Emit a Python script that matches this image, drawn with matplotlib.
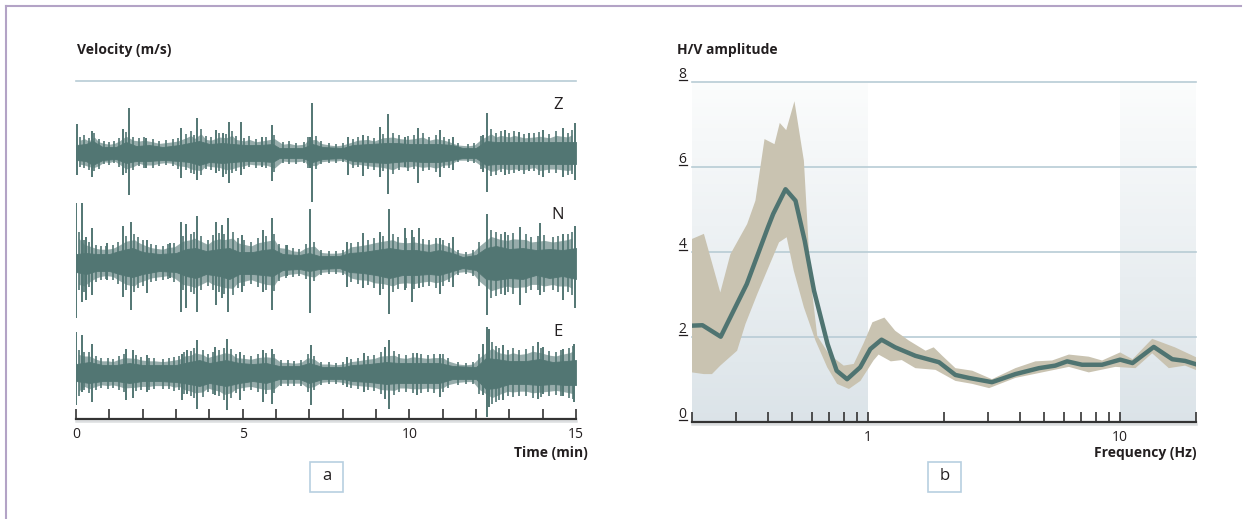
import numpy as np
import matplotlib.pyplot as plt
from matplotlib.patches import Rectangle
import matplotlib.transforms as mtransforms
from matplotlib.colors import to_rgb

plt.rcParams['font.family'] = ['Open Sans', 'DejaVu Sans']

# panel a: three-component ambient noise record, relative amplitude
comp_names = ['Z', 'N', 'E']
comp_offset = [266, 157, 47]

# solid core of each trace: time (min), amplitude above / below
z_t = [0.0, 0.3, 0.5, 0.8, 1.2, 1.5, 1.8, 2.2, 2.6, 3.1, 3.4, 3.7, 4.0, 4.4, 4.7, 5.1, 5.5, 5.9, 6.1,
       6.8, 7.1, 7.4, 8.0, 8.3, 8.8, 9.3, 9.6, 10.0, 10.4, 10.9, 11.3, 11.6, 12.0, 12.3, 12.6, 13.0,
       13.5, 14.0, 14.5, 15.0]
z_up = [8, 9, 12, 6, 6, 11, 7, 8, 6, 8, 10, 12, 9, 10, 9, 8, 8, 9, 5,
        5, 9, 6, 5, 8, 9, 10, 10, 9, 9, 9, 8, 5, 5, 12, 11, 11,
        11, 11, 11, 11]
z_dn = [7, 8, 12, 7, 6, 10, 8, 8, 7, 8, 9, 12, 9, 10, 9, 8, 8, 9, 5,
        5, 9, 6, 5, 8, 9, 10, 9, 8, 9, 9, 7, 5, 5, 12, 11, 11,
        11, 11, 11, 11]
# dense fine peaks around the core
z_fine_t = [0.12, 0.25, 0.38, 0.55, 0.68, 0.85, 1.0, 1.15, 1.3, 1.5, 1.72, 1.9, 2.05, 2.3, 2.5, 2.7,
            2.9, 3.05, 3.3, 3.45, 3.55, 3.75, 3.9, 4.05, 4.3, 4.5, 4.68, 4.8, 5.05, 5.2, 5.4, 5.7,
            5.95, 6.2, 6.4, 6.6, 6.85, 6.95, 7.2, 7.35, 7.6, 7.8, 8.0, 8.3, 8.45, 8.75, 8.95, 9.2,
            9.5, 9.7, 9.95, 10.15, 10.4, 10.6, 10.8, 11.05, 11.2, 11.45, 11.75, 11.95, 12.15, 12.45,
            12.6, 12.75, 13.0, 13.15, 13.45, 13.75, 13.9, 14.2, 14.4, 14.75, 14.88]
z_fine_up = [16, 18, 15, 20, 14, 12, 11, 12, 15, 21, 16, 15, 16, 14, 12, 13,
             14, 15, 19, 22, 18, 24, 17, 16, 20, 19, 22, 17, 15, 17, 14, 16,
             18, 11, 12, 10, 11, 16, 17, 12, 10, 9, 10, 14, 16, 17, 15, 19,
             20, 18, 17, 18, 20, 16, 18, 16, 14, 10, 9, 10, 17, 24,
             20, 22, 20, 22, 19, 20, 21, 19, 22, 20, 23]
z_fine_dn = [14, 15, 17, 18, 16, 11, 12, 10, 14, 20, 17, 13, 15, 15, 13, 12,
             13, 16, 17, 20, 21, 22, 16, 17, 18, 21, 20, 18, 16, 14, 15, 15,
             19, 10, 11, 11, 10, 15, 16, 11, 10, 10, 9, 15, 14, 16, 17, 18,
             21, 17, 18, 16, 18, 17, 19, 15, 15, 9, 9, 10, 16, 23,
             22, 19, 21, 20, 21, 18, 22, 20, 20, 22, 21]
# isolated bursts
z_spk_t = [0.02, 0.47, 1.42, 1.6, 2.1, 3.15, 3.62, 4.2, 4.42, 4.58, 4.94, 5.57, 5.87, 7.03, 7.09,
           8.17, 8.62, 9.12, 9.37, 9.87, 10.27, 10.92, 11.32, 12.22, 12.34, 12.87, 13.3, 13.6,
           14.02, 14.62, 14.97]
z_spk_up = [29, 22, 24, 45, 15, 25, 35, 23, 20, 31, 31, 16, 28, 16, 50,
            16, 18, 26, 39, 16, 25, 23, 16, 18, 40, 23, 21, 20,
            23, 25, 30]
z_spk_dn = [22, 24, 22, 42, 15, 25, 27, 20, 24, 30, 22, 14, 28, 15, 49,
            22, 23, 24, 41, 14, 30, 24, 17, 19, 39, 22, 18, 18,
            24, 24, 27]

n_t = [0.0, 0.3, 0.6, 1.0, 1.4, 1.7, 2.0, 2.5, 3.0, 3.3, 3.6, 3.9, 4.3, 4.6, 4.9, 5.3, 5.6, 5.9, 6.2,
       6.7, 7.0, 7.3, 7.9, 8.2, 8.6, 9.0, 9.4, 9.8, 10.2, 10.6, 10.9, 11.3, 11.6, 12.0, 12.3, 12.6,
       13.0, 13.4, 13.8, 14.2, 14.6, 15.0]
n_up = [8, 9, 8, 8, 12, 14, 10, 8, 9, 13, 14, 11, 13, 14, 10, 10, 12, 13, 8,
        7, 9, 6, 6, 9, 10, 12, 14, 12, 12, 10, 12, 9, 5, 7, 14, 16,
        13, 14, 12, 13, 12, 14]
n_dn = [10, 12, 9, 9, 13, 15, 12, 9, 10, 14, 16, 12, 14, 17, 12, 12, 13, 14, 8,
        7, 9, 7, 6, 10, 11, 13, 16, 13, 13, 12, 13, 9, 6, 8, 17, 18,
        16, 17, 13, 16, 14, 17]
n_fine_t = [0.08, 0.25, 0.4, 0.6, 0.75, 0.9, 1.1, 1.25, 1.5, 1.75, 1.85, 2.0, 2.25, 2.4, 2.6, 2.75,
            2.95, 3.2, 3.45, 3.55, 3.75, 3.95, 4.1, 4.3, 4.45, 4.7, 4.85, 5.05, 5.25, 5.45, 5.7,
            5.95, 6.1, 6.3, 6.5, 6.7, 6.9, 7.15, 7.35, 7.6, 7.8, 8.0, 8.25, 8.45, 8.75, 8.95, 9.2,
            9.5, 9.65, 9.9, 10.15, 10.4, 10.6, 10.8, 11.0, 11.2, 11.45, 11.7, 11.9, 12.1, 12.45,
            12.6, 12.75, 12.95, 13.1, 13.5, 13.65, 13.85, 14.05, 14.3, 14.45, 14.75, 14.88]
n_fine_up = [30, 22, 20, 17, 16, 16, 17, 20, 26, 28, 25, 22, 18, 17, 16, 18,
             19, 26, 28, 30, 26, 22, 27, 29, 28, 30, 24, 22, 20, 24, 26,
             28, 18, 17, 14, 13, 18, 20, 12, 11, 11, 12, 19, 20, 22, 24, 26,
             28, 25, 24, 25, 23, 22, 24, 22, 19, 12, 10, 12, 20, 32,
             30, 28, 27, 29, 28, 25, 26, 27, 25, 26, 28, 30]
n_fine_dn = [28, 30, 25, 20, 18, 17, 18, 22, 28, 30, 26, 24, 20, 19, 18, 17,
             20, 28, 30, 32, 28, 24, 28, 30, 32, 33, 26, 24, 22, 25, 28,
             29, 19, 16, 15, 14, 17, 19, 13, 12, 12, 13, 20, 22, 23, 26, 27,
             30, 27, 26, 27, 25, 24, 26, 24, 20, 13, 12, 14, 24, 36,
             34, 32, 30, 32, 31, 28, 28, 30, 28, 30, 30, 33]
n_spk_t = [0.0, 0.17, 0.3, 0.47, 0.92, 1.42, 1.64, 2.12, 2.82, 3.15, 3.3, 3.64, 4.2, 4.37, 4.57,
           4.97, 5.62, 5.87, 6.32, 7.02, 8.12, 8.62, 9.12, 9.39, 9.87, 10.09, 10.29, 10.92,
           11.32, 12.34, 12.87, 13.32, 13.92, 14.62, 14.97]
n_spk_up = [59, 59, 25, 34, 19, 36, 40, 22, 19, 40, 38, 46, 40, 37, 44,
            27, 32, 44, 17, 53, 20, 29, 30, 53, 34, 32, 34, 24,
            25, 48, 30, 35, 39, 28, 36]
n_spk_dn = [56, 40, 38, 33, 18, 35, 48, 31, 16, 50, 46, 50, 43, 36, 50,
            30, 30, 48, 14, 51, 25, 26, 33, 52, 28, 40, 26, 32,
            25, 53, 33, 43, 33, 38, 46]

e_t = [0.0, 0.4, 0.8, 1.2, 1.6, 2.0, 2.5, 3.0, 3.4, 3.7, 4.0, 4.5, 4.9, 5.3, 5.7, 6.1, 6.7, 7.0,
       7.4, 8.0, 8.3, 8.8, 9.3, 9.7, 10.2, 10.6, 10.9, 11.3, 12.0, 12.3, 12.6, 13.0, 13.5, 13.9,
       14.3, 14.7, 15.0]
e_up = [8, 10, 7, 7, 9, 7, 7, 7, 10, 12, 9, 12, 9, 8, 9, 6, 6, 9,
        5, 5, 7, 8, 10, 9, 9, 9, 9, 6, 5, 14, 13, 11, 11, 13,
        10, 11, 12]
e_dn = [9, 11, 9, 9, 11, 9, 9, 10, 12, 14, 11, 14, 11, 9, 11, 7, 7, 11,
        7, 7, 9, 10, 12, 11, 11, 11, 11, 7, 7, 17, 16, 12, 12, 13,
        12, 13, 13]
e_fine_t = [0.08, 0.25, 0.4, 0.6, 0.75, 0.95, 1.1, 1.3, 1.45, 1.8, 1.95, 2.2, 2.35, 2.6, 2.8, 2.95,
            3.1, 3.25, 3.45, 3.55, 3.8, 3.95, 4.1, 4.3, 4.45, 4.65, 4.8, 5.05, 5.25, 5.45, 5.7,
            5.95, 6.15, 6.35, 6.55, 6.75, 6.95, 7.15, 7.35, 7.6, 7.8, 8.0, 8.25, 8.45, 8.75, 8.95,
            9.15, 9.55, 9.7, 9.9, 10.1, 10.35, 10.55, 10.75, 11.0, 11.15, 11.45, 11.7, 11.9, 12.1,
            12.48, 12.6, 12.7, 12.95, 13.1, 13.3, 13.5, 13.7, 13.95, 14.2, 14.4, 14.55, 14.8, 14.9]
e_fine_up = [22, 20, 20, 16, 14, 14, 13, 16, 18, 17, 15, 14, 14, 13, 14, 15,
             16, 20, 21, 24, 22, 18, 20, 22, 24, 23, 18, 17, 16, 18, 19,
             18, 12, 12, 11, 12, 18, 16, 10, 10, 9, 10, 13, 14, 16, 17,
             20, 21, 18, 17, 19, 18, 17, 18, 18, 14, 10, 9, 10, 18,
             30, 26, 24, 22, 24, 22, 23, 26, 24, 21, 20, 22, 24, 26]
e_fine_dn = [24, 18, 21, 18, 16, 17, 16, 18, 20, 19, 18, 18, 17, 17, 17, 19,
             18, 22, 24, 26, 25, 20, 22, 24, 28, 26, 21, 19, 18, 20, 22,
             21, 14, 14, 14, 14, 20, 18, 13, 12, 12, 13, 16, 17, 18, 19,
             22, 23, 20, 20, 21, 21, 20, 21, 20, 16, 13, 12, 12, 22,
             32, 30, 28, 24, 25, 24, 24, 26, 25, 24, 23, 24, 26, 27]
e_spk_t = [0.0, 0.17, 0.49, 1.5, 1.7, 2.12, 3.17, 3.32, 3.62, 4.17, 4.54, 4.92, 5.6, 5.87, 7.04,
           8.12, 8.65, 9.27, 9.4, 10.22, 10.92, 12.22, 12.32, 12.39, 12.82, 13.87, 14.0,
           14.62, 14.95]
e_spk_up = [40, 37, 28, 23, 22, 17, 18, 22, 32, 25, 33, 20, 22, 23, 27,
            15, 19, 25, 32, 19, 18, 28, 45, 43, 27, 30, 25,
            23, 28]
e_spk_dn = [33, 20, 30, 28, 26, 20, 28, 22, 37, 23, 38, 28, 30, 32, 33,
            15, 20, 27, 37, 23, 25, 23, 45, 35, 28, 27, 22,
            24, 30]

time_ticks = list(range(16))

# panel b: H/V spectral ratio, mean and spread
f_mean = [0.2, 0.22, 0.26, 0.33, 0.40, 0.42, 0.47, 0.515, 0.56, 0.61, 0.69, 0.75, 0.825, 0.93, 1.02,
          1.13, 1.28, 1.54, 1.91, 2.22, 2.51, 3.10, 3.84, 4.76, 5.53, 6.16, 7.06, 8.48, 10.0,
          11.2, 13.6, 16.1, 18.1, 20.3]
hv_mean = [2.26, 2.27, 2.0, 3.24, 4.57, 4.89, 5.47, 5.2, 4.26, 3.08, 1.83, 1.2, 1.0, 1.28, 1.71,
           1.93, 1.75, 1.55, 1.40, 1.10, 1.03, 0.93, 1.12, 1.26, 1.32, 1.42, 1.34, 1.34, 1.46,
           1.38, 1.76, 1.47, 1.43, 1.34]

f_hi = [0.2, 0.223, 0.259, 0.284, 0.331, 0.357, 0.388, 0.425, 0.446, 0.473, 0.51, 0.556, 0.59,
        0.628, 0.699, 0.80, 0.877, 0.96, 1.04, 1.16, 1.28, 1.45, 1.69, 1.82, 1.97, 2.22, 2.59,
        3.10, 3.84, 4.61, 5.37, 6.26, 7.51, 8.48, 10.0, 11.2, 13.4, 16.5, 20.3]
hv_hi = [4.30, 4.42, 3.04, 3.94, 4.65, 5.2, 6.65, 6.53, 7.03, 6.86, 7.54, 6.14, 3.40,
         2.02, 1.59, 1.32, 1.36, 1.85, 2.34, 2.45, 2.14, 1.91, 1.67, 1.75, 1.55, 1.26, 1.2,
         1.0, 1.26, 1.42, 1.44, 1.58, 1.53, 1.44, 1.63, 1.47, 1.95, 1.75, 1.50]

f_lo = [0.2, 0.223, 0.24, 0.259, 0.302, 0.326, 0.363, 0.397, 0.443, 0.475, 0.507, 0.556, 0.618,
        0.688, 0.753, 0.839, 0.932, 1.05, 1.10, 1.23, 1.36, 1.54, 1.85, 2.22, 2.59, 3.02, 3.84,
        4.90, 6.26, 7.51, 9.57, 11.5, 13.4, 15.6, 18.1, 20.3]
hv_lo = [1.16, 1.12, 1.12, 1.32, 1.67, 2.30, 3.0, 3.55, 4.22, 4.34, 3.55, 2.69, 1.91,
         1.28, 0.89, 0.77, 0.96, 1.44, 1.58, 1.42, 1.45, 1.26, 1.22, 0.96, 0.89, 0.79, 1.03,
         1.16, 1.29, 1.16, 1.29, 1.26, 1.61, 1.26, 1.32, 1.2]

hv_levels = [2, 4, 6, 8]
shaded_bands = [(0.2, 1.0), (10.0, 20.0)]

# colours
wave_col = '#527673'
line_col = '#4f7471'
band_col = '#c9c3b1'
grid_col = '#b8ccd5'
axis_col = '#333333'
text_col = '#231f20'
frame_col = '#b3a3c6'
box_col = '#b8cfe0'

W, H = 1246, 519
fig = plt.figure(figsize=(W / 100, H / 100), dpi=100)


def fx(px):
    return px / W


def fy(py):
    return 1 - py / H


# outer frame (top and left edges)
fig.add_artist(plt.Line2D([fx(6), fx(1241)], [fy(6), fy(6)], color=frame_col, lw=1.5,
                          transform=fig.transFigure))
fig.add_artist(plt.Line2D([fx(6), fx(6)], [fy(6), 0], color=frame_col, lw=1.5,
                          transform=fig.transFigure))

# ---------------- panel a ----------------
axa = fig.add_axes([fx(76), fy(419), fx(500), (419 - 81) / H])
traces = [
    (z_t, z_up, z_dn, z_fine_t, z_fine_up, z_fine_dn, z_spk_t, z_spk_up, z_spk_dn),
    (n_t, n_up, n_dn, n_fine_t, n_fine_up, n_fine_dn, n_spk_t, n_spk_up, n_spk_dn),
    (e_t, e_up, e_dn, e_fine_t, e_fine_up, e_fine_dn, e_spk_t, e_spk_up, e_spk_dn),
]
label_rise = [48, 47, 40]
for name, off, rise, tr in zip(comp_names, comp_offset, label_rise, traces):
    bt, bu, bd, ft, fu, fd, st, su, sd = tr
    bu, bd, fu, fd, su, sd = map(np.asarray, (bu, bd, fu, fd, su, sd))
    # fuzzy halo between the fine peaks, then the solid core and the needles
    axa.fill_between(ft, off - 0.8 * fd, off + 0.8 * fu, color=wave_col, alpha=0.6, lw=0)
    axa.fill_between(bt, off - bd, off + bu, color=wave_col, lw=0.6, edgecolor=wave_col)
    axa.vlines(ft, off - fd, off + fu, color=wave_col, lw=1.2)
    axa.vlines(st, off - sd, off + su, color=wave_col, lw=1.4)
    axa.text(14.45, off + rise, name, fontsize=12, color=text_col, ha='center', va='center')

axa.set_xlim(0, 15)
axa.set_ylim(0, 338)
axa.axhline(338, color=grid_col, lw=1.2, clip_on=False)
for s in ['top', 'left', 'right']:
    axa.spines[s].set_visible(False)
axa.spines['bottom'].set_color(axis_col)
axa.spines['bottom'].set_linewidth(1.6)
axa.set_yticks([])
axa.set_xticks(time_ticks)
axa.set_xticklabels([str(t) if t % 5 == 0 else '' for t in time_ticks])
axa.tick_params(axis='x', direction='in', length=7, width=1.2, color=axis_col,
                labelsize=10, labelcolor=text_col, pad=6)
axa.plot([0, 1], [-0.006, -0.006], transform=axa.transAxes, color='#dcdee0', lw=1.8,
         clip_on=False, zorder=0)

fig.text(fx(77), fy(50), 'Velocity (m/s)', fontsize=10, fontweight='bold', color=text_col,
         ha='left', va='center')
fig.text(fx(588), fy(453), 'Time (min)', fontsize=10, fontweight='bold', color=text_col,
         ha='right', va='center')

# ---------------- panel b ----------------
axb = fig.add_axes([fx(692), fy(421.7), fx(504), (421.7 - 81.7) / H])
axb.set_xscale('log')
axb.set_xlim(0.2, 20)
axb.set_ylim(0, 8)

top_rgb = np.array(to_rgb('#fbfcfc'))
bot_rgb = np.array(to_rgb('#dbe3e8'))
n_strips = 80
for lo, hi in shaded_bands:
    for i in range(n_strips):
        y0 = 8 * i / n_strips
        y1 = 8 * (i + 1) / n_strips
        c = bot_rgb + (top_rgb - bot_rgb) * (i + 0.5) / n_strips
        axb.fill_between([lo, hi], y0, y1, color=c, lw=0, antialiased=False, zorder=0)

for lv in hv_levels:
    axb.axhline(lv, color=grid_col, lw=1.2, zorder=1, clip_on=False)

axb.fill(np.concatenate([f_hi, f_lo[::-1]]), np.concatenate([hv_hi, hv_lo[::-1]]),
         color=band_col, lw=0, zorder=2)
axb.plot(f_mean, hv_mean, color=line_col, lw=3.2, solid_joinstyle='round',
         solid_capstyle='round', zorder=3)

for s in ['top', 'left', 'right']:
    axb.spines[s].set_visible(False)
axb.spines['bottom'].set_color(axis_col)
axb.spines['bottom'].set_linewidth(1.6)
axb.spines['bottom'].set_zorder(4)
axb.set_yticks([])
axb.set_xticks([1, 10])
axb.set_xticklabels(['1', '10'])
minor = [0.2, 0.3, 0.4, 0.5, 0.6, 0.7, 0.8, 0.9, 2, 3, 4, 5, 6, 7, 8, 9, 20]
axb.set_xticks(minor, minor=True)
axb.set_xticklabels([], minor=True)
axb.tick_params(axis='x', which='both', direction='in', length=7, width=1.2, color=axis_col,
                labelsize=10, labelcolor=text_col, pad=6)
axb.plot([0, 1], [-0.006, -0.006], transform=axb.transAxes, color='#dcdee0', lw=1.8,
         clip_on=False, zorder=0)

# underlined amplitude labels sitting on the grid lines
blend = mtransforms.blended_transform_factory(axb.transAxes, axb.transData)
for lv in [0] + hv_levels:
    axb.annotate(str(lv), xy=(0, lv), xycoords=blend, xytext=(-4, 2.6),
                 textcoords='offset points', ha='right', va='baseline', fontsize=10,
                 color=text_col, annotation_clip=False)
    axb.plot([-0.0258, -0.0099], [lv + 0.04, lv + 0.04], transform=blend, color=text_col,
             lw=0.9, clip_on=False)

fig.text(fx(677), fy(50), 'H/V amplitude', fontsize=10, fontweight='bold', color=text_col,
         ha='left', va='center')
fig.text(fx(1197), fy(453), 'Frequency (Hz)', fontsize=10, fontweight='bold', color=text_col,
         ha='right', va='center')

# panel letters in small boxes
for letter, cx in [('a', 326.5), ('b', 944.5)]:
    fig.add_artist(Rectangle((fx(cx - 16.5), fy(492)), fx(33), 30 / H, fill=False,
                             ec=box_col, lw=1.2, transform=fig.transFigure))
    fig.text(fx(cx), fy(476), letter, fontsize=12, color=text_col, ha='center', va='center')

fig.savefig('out.png', dpi=100)
